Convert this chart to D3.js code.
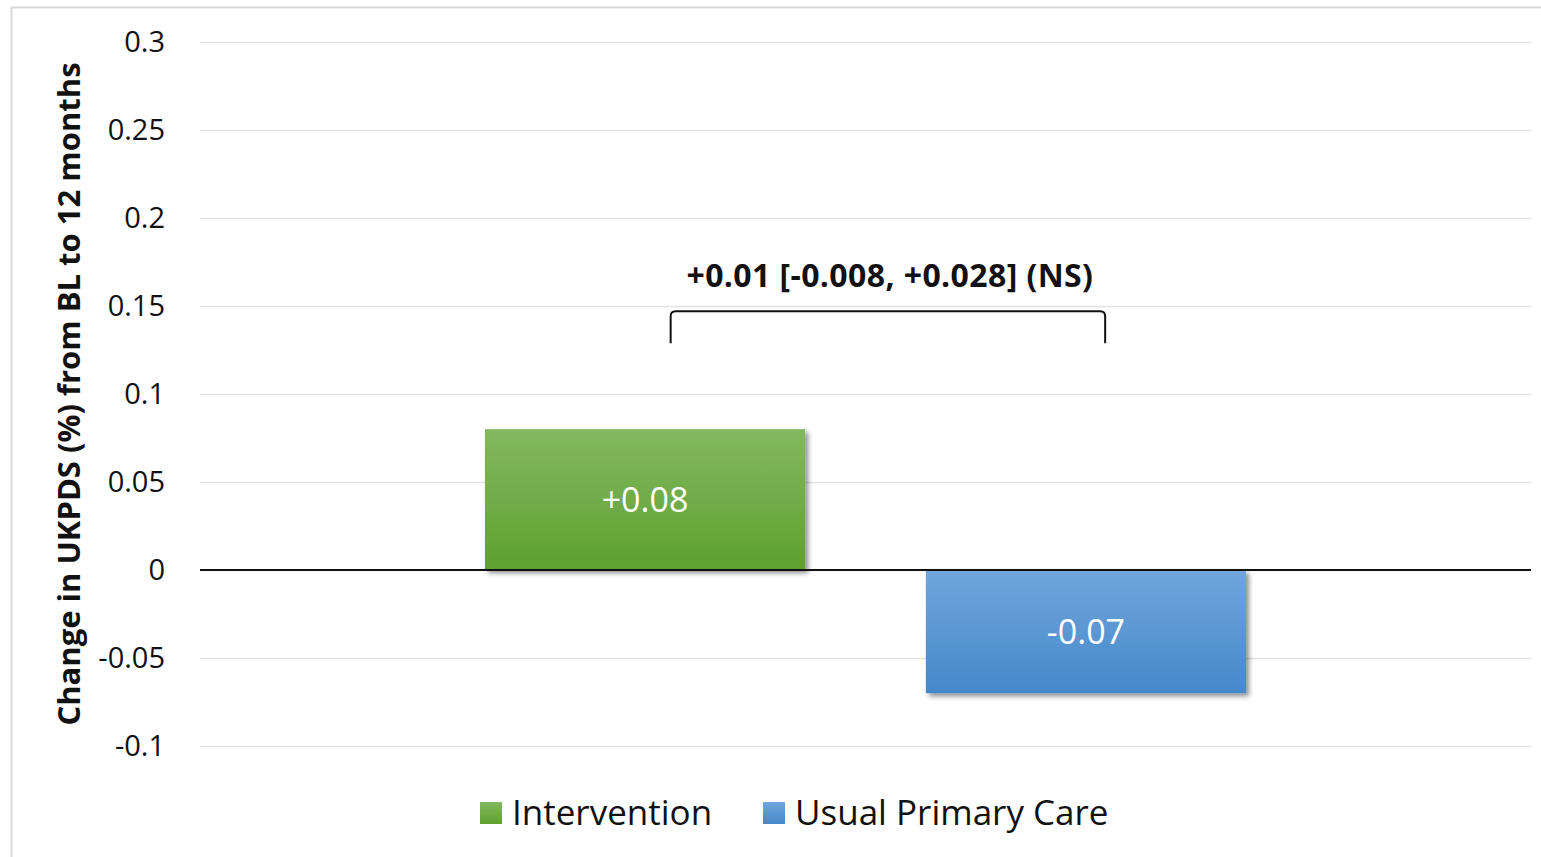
<!DOCTYPE html>
<html>
<head>
<meta charset="utf-8">
<script src="https://cdn.jsdelivr.net/npm/d3@7"></script>
<style>
  html, body { margin: 0; padding: 0; background: #fff; }
  svg { display: block; font-family: "Open Sans", "Noto Sans", sans-serif; }
</style>
</head>
<body>
<svg id="chart" width="1541" height="857"></svg>
<script>
// Change in UKPDS risk score from baseline to 12 months
const categories = [""];
const seriesNames = ["Intervention", "Usual Primary Care"];
const seriesValues = [0.08, -0.07];
const valueLabels = ["+0.08", "-0.07"];
const yTicks = [-0.1, -0.05, 0, 0.05, 0.1, 0.15, 0.2, 0.25, 0.3];
const yTickLabels = ["-0.1", "-0.05", "0", "0.05", "0.1", "0.15", "0.2", "0.25", "0.3"];
const differenceLabel = "+0.01 [-0.008, +0.028] (NS)";
const bracketValue = 0.147;
const yTitle = "Change in UKPDS (%) from BL to 12 months";

const svg = d3.select("#chart");

// frame
svg.append("path")
  .attr("d", "M11.5,857 V7.5 H1541")
  .attr("fill", "none").attr("stroke", "#d9d9d9").attr("stroke-width", 2);

const y = d3.scaleLinear().domain([-0.1, 0.3]).range([746, 42]);
const x0 = d3.scaleBand().domain(categories).range([200, 1531]).paddingOuter(0.3745).paddingInner(0);
const x1 = d3.scaleBand().domain(seriesNames).range([0, x0.bandwidth()]).paddingInner(0.274).paddingOuter(0);

const defs = svg.append("defs");
const gradColors = [["#82b961", "#5fa02f"], ["#70a6dd", "#4588c9"]];
seriesNames.forEach((s, i) => {
  const g = defs.append("linearGradient").attr("id", "grad" + i)
    .attr("x1", 0).attr("y1", 0).attr("x2", 0).attr("y2", 1);
  g.append("stop").attr("offset", "0%").attr("stop-color", gradColors[i][0]);
  g.append("stop").attr("offset", "100%").attr("stop-color", gradColors[i][1]);
});
const f = defs.append("filter").attr("id", "shadow")
  .attr("x", "-5%").attr("y", "-5%").attr("width", "115%").attr("height", "120%");
f.append("feDropShadow").attr("dx", 3).attr("dy", 3).attr("stdDeviation", 2.5)
  .attr("flood-color", "#000").attr("flood-opacity", 0.45);

// gridlines and tick labels
const yAxis = d3.axisLeft(y).tickValues(yTicks)
  .tickFormat((d, i) => yTickLabels[i])
  .tickSize(-(1531 - 200)).tickPadding(35);
const ga = svg.append("g").attr("transform", "translate(200,0)").call(yAxis);
ga.select(".domain").remove();
ga.selectAll(".tick line").attr("stroke", "#dfe2e7").attr("stroke-width", 1.5);
ga.selectAll(".tick text").attr("fill", "#111").attr("font-size", 29)
  .attr("font-family", "'Open Sans', 'Noto Sans', sans-serif");

// axis title
svg.append("text")
  .attr("transform", `translate(80,${(42 + 746) / 2}) rotate(-90)`)
  .attr("text-anchor", "middle")
  .attr("font-size", 31).attr("font-weight", "bold").attr("fill", "#111")
  .text(yTitle);

// bars
const gb = svg.append("g").attr("transform", `translate(${x0(categories[0])},0)`);
seriesNames.forEach((s, i) => {
  const v = seriesValues[i];
  gb.append("rect")
    .attr("x", x1(s)).attr("width", x1.bandwidth())
    .attr("y", y(Math.max(0, v))).attr("height", Math.abs(y(v) - y(0)))
    .attr("fill", `url(#grad${i})`).attr("filter", "url(#shadow)");
});

// zero line
svg.append("line").attr("x1", 200).attr("x2", 1531)
  .attr("y1", y(0)).attr("y2", y(0)).attr("stroke", "#111").attr("stroke-width", 2);

// value labels
seriesNames.forEach((s, i) => {
  const v = seriesValues[i];
  gb.append("text")
    .attr("x", x1(s) + x1.bandwidth() / 2)
    .attr("y", (y(v) + y(0)) / 2)
    .attr("dy", "0.35em").attr("text-anchor", "middle")
    .attr("font-size", 34).attr("fill", "#fff")
    .text(valueLabels[i]);
});

// bracket joining the two bars
const bx1 = x0(categories[0]) + x1(seriesNames[0]) + x1.bandwidth() * 0.58;
const bx2 = x0(categories[0]) + x1(seriesNames[1]) + x1.bandwidth() * 0.56;
const by = y(bracketValue);
const r = 5;
svg.append("path")
  .attr("d", `M${bx1},${by + 32} V${by + r} Q${bx1},${by} ${bx1 + r},${by} H${bx2 - r} Q${bx2},${by} ${bx2},${by + r} V${by + 32}`)
  .attr("fill", "none").attr("stroke", "#111").attr("stroke-width", 2);
svg.append("text")
  .attr("x", (bx1 + bx2) / 2 + 2).attr("y", by - 24)
  .attr("text-anchor", "middle").attr("font-size", 32).attr("font-weight", "bold")
  .attr("letter-spacing", 0.4).attr("fill", "#111")
  .text(differenceLabel);

// legend
const legendX = [480, 763];
seriesNames.forEach((s, i) => {
  const g = svg.append("g").attr("transform", `translate(${legendX[i]},802)`);
  g.append("rect").attr("width", 22).attr("height", 22).attr("fill", `url(#grad${i})`);
  g.append("text").attr("x", 32).attr("y", 11).attr("dy", "0.35em")
    .attr("font-size", 35).attr("fill", "#111").text(s);
});
</script>
</body>
</html>
